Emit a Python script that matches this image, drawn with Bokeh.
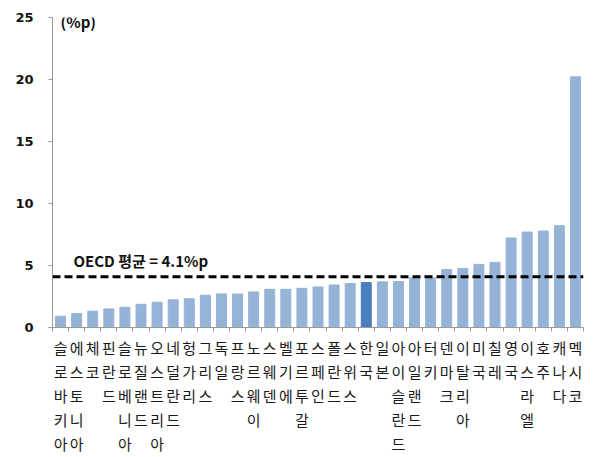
from bokeh.plotting import figure
from bokeh.models import Range1d, FixedTicker, Label, ColumnDataSource, Span
from bokeh.embed import file_html
from bokeh.resources import INLINE

countries = ["슬로바키아", "에스토니아", "체코", "핀란드", "슬로베니아", "뉴질랜드", "오스트리아",
             "네덜란드", "헝가리", "그리스", "독일", "프랑스", "노르웨이", "스웨덴", "벨기에",
             "포르투갈", "스페인", "폴란드", "스위스", "한국", "일본", "아이슬란드", "아일랜드",
             "터키", "덴마크", "이탈리아", "미국", "칠레", "영국", "이스라엘", "호주", "캐나다", "멕시코"]
values = [0.91, 1.13, 1.32, 1.50, 1.63, 1.87, 2.04, 2.23, 2.31, 2.60, 2.71, 2.70, 2.87, 3.08,
          3.08, 3.16, 3.27, 3.43, 3.54, 3.62, 3.68, 3.70, 4.00, 4.00, 4.67, 4.75, 5.09, 5.25,
          7.22, 7.70, 7.78, 8.21, 20.22]
highlight = "한국"
oecd_avg = 4.1
avg_label = "OECD 평균 = 4.1%p"
unit_label = "(%p)"
y_ticks = [0, 5, 10, 15, 20, 25]

FONT = "Noto Sans CJK KR"
xs = list(range(1, len(countries) + 1))
colors = ["#4A7EBF" if c == highlight else "#95B3D7" for c in countries]
src = ColumnDataSource(dict(x=xs, top=values, color=colors, name=countries))

p = figure(width=595, height=457, output_backend="svg", toolbar_location=None,
           x_range=Range1d(0.5, len(countries) + 0.5), y_range=Range1d(0, 25),
           min_border_left=52, min_border_right=12, min_border_top=17, min_border_bottom=128)
p.outline_line_color = None
p.xgrid.grid_line_color = None
p.ygrid.grid_line_color = None

p.vbar(x="x", top="top", width=0.62, color="color", source=src)

p.add_layout(Span(location=oecd_avg, dimension="width", line_color="black",
                  line_width=3, line_dash="8 4"))
p.add_layout(Label(x=1.8, y=5.37, text=avg_label, text_font=FONT, text_font_size="15px",
                   text_font_style="bold", text_baseline="middle", text_color="#111111"))
p.add_layout(Label(x=1.0, y=24.7, text=unit_label, text_font=FONT, text_font_size="15px",
                   text_font_style="bold", text_baseline="middle", text_color="#111111"))

xa = p.xaxis[0]
xa.ticker = FixedTicker(ticks=xs, minor_ticks=[i + 0.5 for i in range(0, len(countries) + 1)])
xa.major_label_overrides = {i: "\n".join(c) for i, c in zip(xs, countries)}
xa.major_tick_line_color = None
xa.minor_tick_line_color = "#9a9a9a"
xa.minor_tick_out = 4
xa.minor_tick_in = 0
xa.axis_line_color = "#9a9a9a"
xa.major_label_text_font = FONT
xa.major_label_text_font_size = "15px"
xa.major_label_text_color = "#1a1a1a"
xa.major_label_text_line_height = 1.15
xa.major_label_standoff = 3

ya = p.yaxis[0]
ya.ticker = FixedTicker(ticks=y_ticks, minor_ticks=[])
ya.axis_line_color = "#9a9a9a"
ya.major_tick_line_color = "#9a9a9a"
ya.major_tick_out = 4
ya.major_tick_in = 0
ya.major_label_text_font = "DejaVu Sans"
ya.major_label_text_font_size = "13px"
ya.major_label_text_font_style = "bold"
ya.major_label_text_color = "#111111"
ya.major_label_standoff = 15

open("out.html", "w").write(file_html(p, INLINE))
